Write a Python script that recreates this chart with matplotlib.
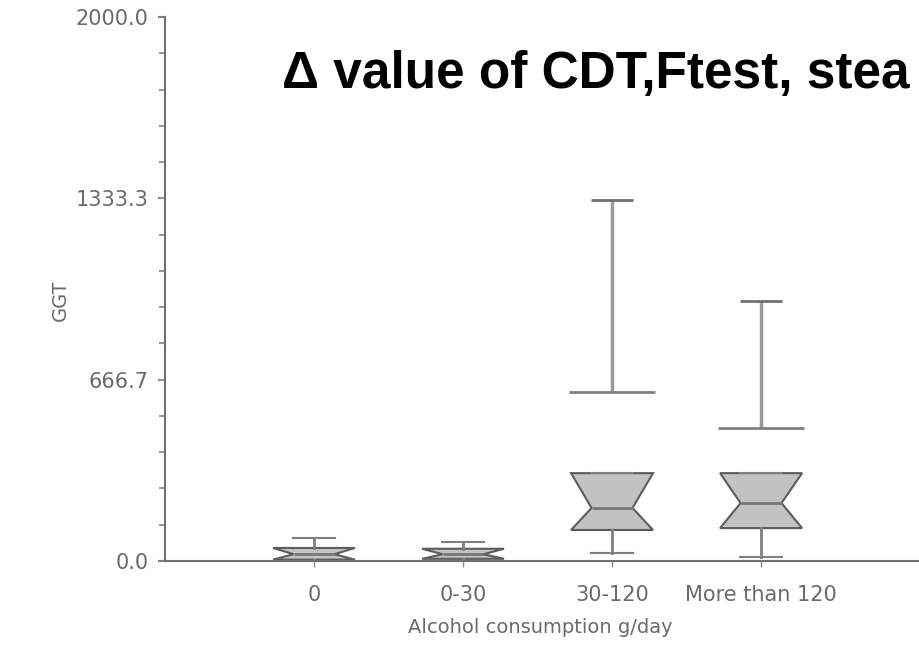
import numpy as np
import matplotlib.pyplot as plt
from matplotlib.ticker import MultipleLocator

#%% Data
categories = ['0', '0-30', '30-120', 'More than 120']
positions = [1, 2, 3, 4]
q1 = [5, 8, 114, 121]
med = [25, 25, 195, 213]
q3 = [48, 45, 323, 323]
whis_lo = [0, 0, 29, 15]
whis_hi = [85, 70, 323, 323]
upper_lo = [np.nan, np.nan, 621, 489]
upper_hi = [np.nan, np.nan, 1327, 957]

y_ticks = [0.0, 666.7, 1333.3, 2000.0]
title = 'Δ value of CDT,Ftest, stea'

#%% Plot
fig = plt.figure(figsize=(9.2, 6.54), dpi=100)
ax = fig.add_axes([165/920, 93/654, 755/920, 544/654])

stats = []
for i in range(len(categories)):
    stats.append(dict(label=categories[i], q1=q1[i], med=med[i], q3=q3[i],
                      whislo=whis_lo[i], whishi=whis_hi[i],
                      cilo=q1[i], cihi=q3[i], fliers=[]))

ax.bxp(stats, positions=positions, widths=0.55, shownotches=True,
       patch_artist=True, showfliers=False, capwidths=0.28,
       boxprops=dict(facecolor='#c2c2c2', edgecolor='#5c5c5c', linewidth=1.5),
       medianprops=dict(color='#777777', linewidth=2),
       whiskerprops=dict(color='#808080', linewidth=2),
       capprops=dict(color='#808080', linewidth=1.5))

# upper range segments (drawn apart from the boxes, as in the source)
ax.vlines(positions, upper_lo, upper_hi, color='#9a9a9a', linewidth=2.5)
ax.hlines(upper_hi, np.array(positions) - 0.14, np.array(positions) + 0.14,
          color='#707070', linewidth=2)
ax.hlines(upper_lo, np.array(positions) - 0.29, np.array(positions) + 0.29,
          color='#808080', linewidth=2)

ax.set_xlim(0, 760/150)
ax.set_ylim(0, 2000)
ax.set_yticks(y_ticks)
ax.set_yticklabels(['%.1f' % v for v in y_ticks])
ax.yaxis.set_minor_locator(MultipleLocator(2000/15))
ax.set_xticks(positions)
ax.set_xticklabels(categories)

for s in ['top', 'right']:
    ax.spines[s].set_visible(False)
for s in ['left', 'bottom']:
    ax.spines[s].set_color('#707070')
    ax.spines[s].set_linewidth(1.5)

ax.tick_params(axis='y', which='major', length=5, width=1.5, color='#808080',
               labelsize=15, labelcolor='#6a6a6a', pad=7)
ax.tick_params(axis='y', which='minor', length=4, width=1.5, color='#999999')
ax.tick_params(axis='x', length=4, width=1, color='#909090',
               labelsize=15, labelcolor='#6a6a6a', pad=13)

ax.set_ylabel('GGT', fontsize=14, color='#6a6a6a')
ax.yaxis.set_label_coords(-(165-70)/755, (561-300)/544)
ax.set_xlabel('Alcohol consumption g/day', fontsize=14, color='#6a6a6a')
ax.xaxis.set_label_coords((540-165)/755, -(618-561)/544)

fig.text(282/920, 1 - 75/654, title, fontsize=37, fontweight='bold',
         family='Liberation Sans', color='black', va='center', ha='left')

plt.savefig('out.png', dpi=100)
